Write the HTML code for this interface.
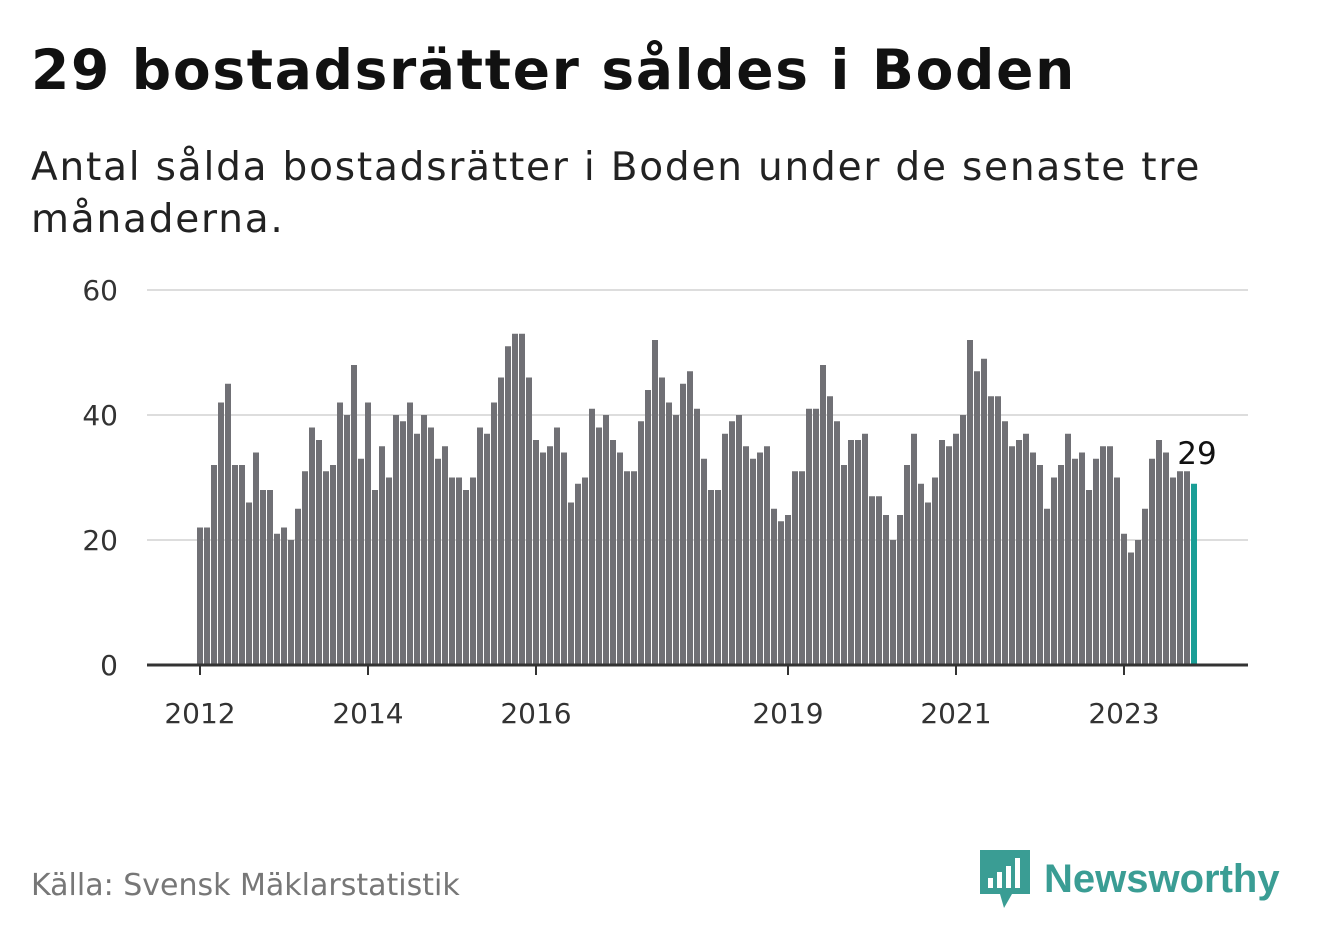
<!DOCTYPE html>
<html><head><meta charset="utf-8"><style>
body{margin:0;width:1322px;height:939px;background:#fff;font-family:"DejaVu Sans","Liberation Sans",sans-serif;overflow:hidden;position:relative}
.t{position:absolute;left:31px;top:38px;font-size:55px;font-weight:bold;color:#111;letter-spacing:1.7px;white-space:nowrap}
.s{position:absolute;left:31px;top:142px;font-size:39px;color:#222;line-height:52px;width:1230px;letter-spacing:1.8px}
.f{position:absolute;left:31px;top:868px;font-size:30px;color:#777}
.logo{position:absolute;left:980px;top:850px;display:flex;align-items:center}
.logo span{font-family:"Liberation Sans",sans-serif;font-size:40px;font-weight:bold;color:#3a9d94;margin-left:14px}
</style></head><body>
<div class="t">29 bostadsrätter såldes i Boden</div>
<div class="s">Antal sålda bostadsrätter i Boden under de senaste tre månaderna.</div>
<svg id="c" width="1322" height="939" style="position:absolute;left:0;top:0"></svg>
<div class="f">Källa: Svensk Mäklarstatistik</div>
<div class="logo">
<svg width="50" height="58" viewBox="0 0 50 58"><path d="M0 0H50V44H32L24 58L20 44H0Z" fill="#3a9d94"/><rect x="8" y="28" width="5" height="10" fill="#fff"/><rect x="17" y="22" width="5" height="16" fill="#fff"/><rect x="26" y="16" width="5" height="22" fill="#fff"/><rect x="35" y="8" width="5" height="30" fill="#fff"/></svg>
<span>Newsworthy</span></div>
<script>
const values=[22,22,32,42,45,32,32,26,34,28,28,21,22,20,25,31,38,36,31,32,42,40,48,33,42,28,35,30,40,39,42,37,40,38,33,35,30,30,28,30,38,37,42,46,51,53,53,46,36,34,35,38,34,26,29,30,41,38,40,36,34,31,31,39,44,52,46,42,40,45,47,41,33,28,28,37,39,40,35,33,34,35,25,23,24,31,31,41,41,48,43,39,32,36,36,37,27,27,24,20,24,32,37,29,26,30,36,35,37,40,52,47,49,43,43,39,35,36,37,34,32,25,30,32,37,33,34,28,33,35,35,30,21,18,20,25,33,36,34,30,31,31,29];
const yTicks=[0,20,40,60];
const xLabels=["2012","2014","2016","2019","2021","2023"];
const xLabelIdx=[0,24,48,84,108,132];
const svg=document.getElementById('c');const NS='http://www.w3.org/2000/svg';
const x0=200,step=7,y0=665,ys=6.25;
const X=i=>x0+i*step, Y=v=>y0-v*ys;
const FF='DejaVu Sans, Liberation Sans, sans-serif';
function mk(t,a){const e=document.createElementNS(NS,t);for(const k in a)e.setAttribute(k,a[k]);svg.appendChild(e);return e;}
yTicks.forEach(v=>{
 if(v>0){const g=mk('line',{x1:147,x2:1248,y1:Y(v),y2:Y(v),stroke:'#ddd','stroke-width':2});
 
 }
 const t=mk('text',{x:118,y:Y(v)+10,'text-anchor':'end','font-size':28,fill:'#333','font-family':FF});
 t.textContent=v;
 
 
});
values.forEach((v,i)=>{
 const last=i===values.length-1;
 const r=mk('rect',{x:X(i)-3,y:Y(v),width:6,height:v*ys,fill:last?'#1a9e96':'#707075'});
 
 
});
const li=values.length-1;
const lab=mk('text',{x:X(li)+3,y:Y(values[li])-20,'text-anchor':'middle','font-size':31,fill:'#111','font-family':FF});
lab.textContent=values[li];


const ax=mk('line',{x1:147,x2:1248,y1:y0,y2:y0,stroke:'#333','stroke-width':3});


xLabels.forEach((s,k)=>{
 const tk=mk('line',{x1:X(xLabelIdx[k]),x2:X(xLabelIdx[k]),y1:y0,y2:y0+10,stroke:'#333','stroke-width':2});
 
 
 const t=mk('text',{x:X(xLabelIdx[k]),y:723,'text-anchor':'middle','font-size':28,fill:'#333','font-family':FF});
 t.textContent=s;
 
 
});
</script>
</body></html>
